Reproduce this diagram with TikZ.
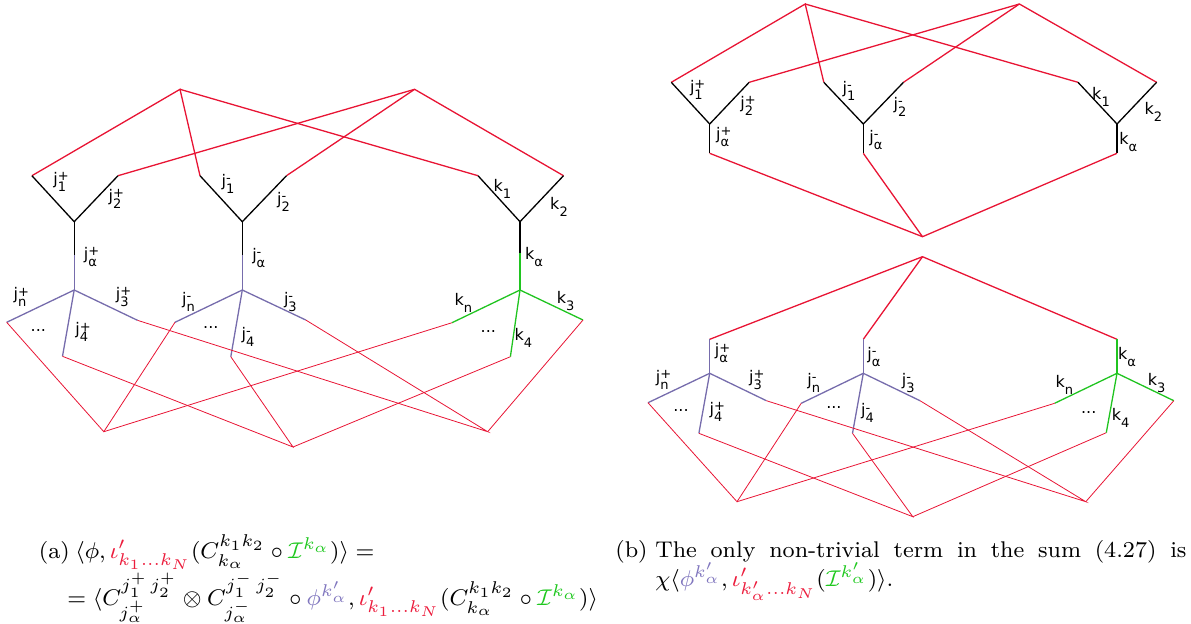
\documentclass[tikz,border=0pt]{standalone}
\usepackage{amsmath}
\usepackage{graphicx}
\usepackage{fontspec}
\newfontfamily\lf{DejaVu Sans}
\definecolor{myred}{RGB}{232,20,52}
\definecolor{mypurple}{RGB}{118,108,172}
\definecolor{mygreen}{RGB}{32,196,32}
\definecolor{cred}{RGB}{236,28,60}
\definecolor{cpurple}{RGB}{128,118,190}
\definecolor{cgreen}{RGB}{30,200,30}
\newcommand\lab[3]{{\lf\fontsize{8}{9}\selectfont #1\makebox[0pt][l]{\raisebox{1.9pt}{\fontsize{6.5}{7}\selectfont #2}}\raisebox{-3.5pt}{\fontsize{6.5}{7}\selectfont #3}}}
\newcommand\ctx[1]{\scalebox{1.42}{\fontsize{8}{10}\selectfont #1}}
\begin{document}
\begin{tikzpicture}[x=0.5pt,y=-0.5pt,
  rl/.style={draw=myred,line width=0.65pt},
  trl/.style={draw=myred,line width=0.4pt},
  bl/.style={draw=black,line width=0.65pt},
  pl/.style={draw=mypurple,line width=0.65pt},
  gl/.style={draw=mygreen,line width=0.65pt},
  lb/.style={inner sep=0pt},
  dots/.style={inner sep=0pt,font=\lf\fontsize{8}{9}\selectfont},
  captxt/.style={inner sep=0pt,anchor=base west}]
\useasboundingbox (0,0) rectangle (1191,623);
% ---------- left diagram ----------
\coordinate (A) at (180,89.3);
\coordinate (B) at (414.6,89.3);
\coordinate (P1) at (31.9,175.7); \coordinate (V1) at (74.2,221.7); \coordinate (P2) at (118,175.7);
\coordinate (M1) at (200,175.7); \coordinate (V2) at (242.3,221.7); \coordinate (M2) at (286.5,175.7);
\coordinate (K1) at (478,175.7); \coordinate (V3) at (520,221.7); \coordinate (K2) at (563.5,175.7);
\coordinate (S1) at (74.2,255); \coordinate (W1) at (74.2,290);
\coordinate (S2) at (242.3,255); \coordinate (W2) at (242.3,290);
\coordinate (S3) at (520,253.3); \coordinate (W3) at (520,290);
\coordinate (L1) at (6.7,322.3); \coordinate (R1) at (137.5,320.3); \coordinate (D1) at (62.5,356.3);
\coordinate (L2) at (175,322.3); \coordinate (R2) at (305.8,320); \coordinate (D2) at (230.8,356.7);
\coordinate (L3) at (452,322.7); \coordinate (R3) at (583,320); \coordinate (D3) at (510.4,356.7);
\coordinate (C1) at (103.8,431.7); \coordinate (C2) at (293,447); \coordinate (C3) at (487.7,431.7);
\draw[rl] (P1) -- (A) -- (M1);
\draw[rl] (A) -- (K1);
\draw[rl] (P2) -- (B) -- (K2);
\draw[rl] (B) -- (M2);
\draw[bl] (P1) -- (V1) -- (P2); \draw[bl] (V1) -- (S1);
\draw[bl] (M1) -- (V2) -- (M2); \draw[bl] (V2) -- (S2);
\draw[bl] (K1) -- (V3) -- (K2); \draw[bl] (V3) -- (S3);
\draw[pl] (S1) -- (W1); \draw[pl] (L1) -- (W1) -- (R1); \draw[pl] (W1) -- (D1);
\draw[pl] (S2) -- (W2); \draw[pl] (L2) -- (W2) -- (R2); \draw[pl] (W2) -- (D2);
\draw[gl] (S3) -- (W3); \draw[gl] (L3) -- (W3) -- (R3); \draw[gl] (W3) -- (D3);
\draw[trl] (L1) -- (C1) -- (L2); \draw[trl] (C1) -- (L3);
\draw[trl] (D1) -- (C2) -- (D2); \draw[trl] (C2) -- (D3);
\draw[trl] (R1) -- (C3) -- (R2); \draw[trl] (C3) -- (R3);
\node[lb] (la1) at (59.7,181.7) {\lab{j}{+}{1}};
\node[lb] (la2) at (115,199) {\lab{j}{+}{2}};
\node[lb] (la3) at (228,184) {\lab{j}{-}{1}};
\node[lb] (la4) at (283.5,202) {\lab{j}{-}{2}};
\node[lb] (la5) at (502.3,189.3) {\lab{k}{}{1}};
\node[lb] (la6) at (559,206.7) {\lab{k}{}{2}};
\node[lb] (la7) at (90.4,256.7) {\lab{j}{+}{α}};
\node[lb] (la8) at (258.8,258) {\lab{j}{-}{α}};
\node[lb] (la9) at (534,257.3) {\lab{k}{}{α}};
\node[lb] (la10) at (20,297.3) {\lab{j}{+}{n}};
\node[lb] (la11) at (122.3,297.3) {\lab{j}{+}{3}};
\node[lb] (la12) at (188.5,301.7) {\lab{j}{-}{n}};
\node[lb] (la13) at (290.4,301.7) {\lab{j}{-}{3}};
\node[lb] (la14) at (463.3,302.7) {\lab{k}{}{n}};
\node[lb] (la15) at (565.7,300.7) {\lab{k}{}{3}};
\node[lb] (la16) at (81.7,332.3) {\lab{j}{+}{4}};
\node[lb] (la17) at (248,336.7) {\lab{j}{-}{4}};
\node[lb] (la18) at (523.3,338.3) {\lab{k}{}{4}};
\node[dots] (ld1) at (38.3,330) {...};
\node[dots] (ld2) at (210.8,327) {...};
\node[dots] (ld3) at (488.3,331) {...};
% ---------- right diagram, top ----------
\coordinate (Ar) at (805.2,4);
\coordinate (Br) at (1019.4,4);
\coordinate (P1r) at (671.3,82.3); \coordinate (V1r) at (709.7,124); \coordinate (P2r) at (749.2,82.3);
\coordinate (M1r) at (823.8,82.3); \coordinate (V2r) at (863.3,124); \coordinate (M2r) at (903.5,82.3);
\coordinate (K1r) at (1078,82.3); \coordinate (V3r) at (1117,124); \coordinate (K2r) at (1156.6,82.3);
\coordinate (U1) at (709.7,153.3); \coordinate (U2) at (863.3,153.3); \coordinate (U3) at (1117,153.3);
\coordinate (Dr) at (922.5,236.7);
\draw[rl] (P1r) -- (Ar) -- (M1r);
\draw[rl] (Ar) -- (K1r);
\draw[rl] (P2r) -- (Br) -- (K2r);
\draw[rl] (Br) -- (M2r);
\draw[bl] (P1r) -- (V1r) -- (P2r); \draw[bl] (V1r) -- (U1);
\draw[bl] (M1r) -- (V2r) -- (M2r); \draw[bl] (V2r) -- (U2);
\draw[bl] (K1r) -- (V3r) -- (K2r); \draw[bl] (V3r) -- (U3);
\draw[rl] (U1) -- (Dr) -- (U3); \draw[rl] (U2) -- (Dr);
\node[lb] (lb1) at (696.4,90) {\lab{j}{+}{1}};
\node[lb] (lb2) at (746.7,106) {\lab{j}{+}{2}};
\node[lb] (lb3) at (849,90.7) {\lab{j}{-}{1}};
\node[lb] (lb4) at (900,106.7) {\lab{j}{-}{2}};
\node[lb] (lb5) at (1101,96.7) {\lab{k}{}{1}};
\node[lb] (lb6) at (1153.3,111.7) {\lab{k}{}{2}};
\node[lb] (lb7) at (722.6,136.7) {\lab{j}{+}{α}};
\node[lb] (lb8) at (875.9,140) {\lab{j}{-}{α}};
\node[lb] (lb9) at (1128.2,141.7) {\lab{k}{}{α}};
% ---------- right diagram, bottom ----------
\coordinate (E) at (922.5,256.7);
\coordinate (Q1) at (709.7,339.3); \coordinate (X1) at (709.7,373.3);
\coordinate (Q2) at (863.3,339.3); \coordinate (X2) at (863.3,373.3);
\coordinate (Q3) at (1117,339.3); \coordinate (X3) at (1117,373.3);
\coordinate (L1r) at (648,402.7); \coordinate (R1r) at (766.4,400.7); \coordinate (D1r) at (698.9,433.3);
\coordinate (L2r) at (801.2,403.3); \coordinate (R2r) at (920,400.7); \coordinate (D2r) at (852.5,433.3);
\coordinate (L3r) at (1054.6,403.3); \coordinate (R3r) at (1173.8,400.7); \coordinate (D3r) at (1106.3,432.7);
\coordinate (G1) at (737,501.7); \coordinate (G2) at (912.8,516.7); \coordinate (G3) at (1085.8,501.7);
\draw[rl] (Q1) -- (E) -- (Q3); \draw[rl] (E) -- (Q2);
\draw[pl] (Q1) -- (X1); \draw[pl] (L1r) -- (X1) -- (R1r); \draw[pl] (X1) -- (D1r);
\draw[pl] (Q2) -- (X2); \draw[pl] (L2r) -- (X2) -- (R2r); \draw[pl] (X2) -- (D2r);
\draw[gl] (Q3) -- (X3); \draw[gl] (L3r) -- (X3) -- (R3r); \draw[gl] (X3) -- (D3r);
\draw[trl] (L1r) -- (G1) -- (L2r); \draw[trl] (G1) -- (L3r);
\draw[trl] (D1r) -- (G2) -- (D2r); \draw[trl] (G2) -- (D3r);
\draw[trl] (R1r) -- (G3) -- (R2r); \draw[trl] (G3) -- (R3r);
\node[lb] (lc1) at (721.5,353.3) {\lab{j}{+}{α}};
\node[lb] (lc2) at (874,356.7) {\lab{j}{-}{α}};
\node[lb] (lc3) at (1127,356.7) {\lab{k}{}{α}};
\node[lb] (lc4) at (662.3,380) {\lab{j}{+}{n}};
\node[lb] (lc5) at (755.6,380) {\lab{j}{+}{3}};
\node[lb] (lc6) at (813.8,382.7) {\lab{j}{-}{n}};
\node[lb] (lc7) at (908.2,382.7) {\lab{j}{-}{3}};
\node[lb] (lc8) at (1064.3,385) {\lab{k}{}{n}};
\node[lb] (lc9) at (1156.6,383.5) {\lab{k}{}{3}};
\node[lb] (lc10) at (716,411.7) {\lab{j}{+}{4}};
\node[lb] (lc11) at (867.6,413.3) {\lab{j}{-}{4}};
\node[lb] (lc12) at (1120.7,418.3) {\lab{k}{}{4}};
\node[dots] (le1) at (681,410) {...};
\node[dots] (le2) at (833.9,407) {...};
\node[dots] (le3) at (1088.7,412) {...};
% ---------- captions ----------
\node[captxt] (ca) at (38.5,558) {\ctx{(a)}};
\node[captxt] (ca1) at (75,558) {\ctx{$\langle\phi,\textcolor{cred}{\iota'_{k_1\ldots k_N}}(C^{k_1k_2}_{k_\alpha}\circ\textcolor{cgreen}{\mathcal{I}^{k_\alpha}})\rangle =$}};
\node[captxt] (ca2) at (67,605) {\ctx{$=\langle C^{j_1^+\,j_2^+}_{j_\alpha^+}\otimes C^{j_1^-\,j_2^-}_{j_\alpha^-}\circ\textcolor{cpurple}{\phi^{k'_\alpha}},\textcolor{cred}{\iota'_{k_1\ldots k_N}}(C^{k_1k_2}_{k_\alpha}\circ\textcolor{cgreen}{\mathcal{I}^{k_\alpha}})\rangle$}};
\node[captxt] (cb) at (615,557) {\ctx{(b)}};
\node[captxt] (cb1) at (655,557) {\ctx{\makebox[187pt][s]{The only non-trivial term in the sum (4.27) is}}};
\node[captxt] (cb2) at (655,586) {\ctx{$\chi\langle\textcolor{cpurple}{\phi^{k'_\alpha}},\textcolor{cred}{\iota'_{k'_\alpha\ldots k_N}}(\textcolor{cgreen}{\mathcal{I}^{k'_\alpha}})\rangle$.}};
\end{tikzpicture}
\end{document}
